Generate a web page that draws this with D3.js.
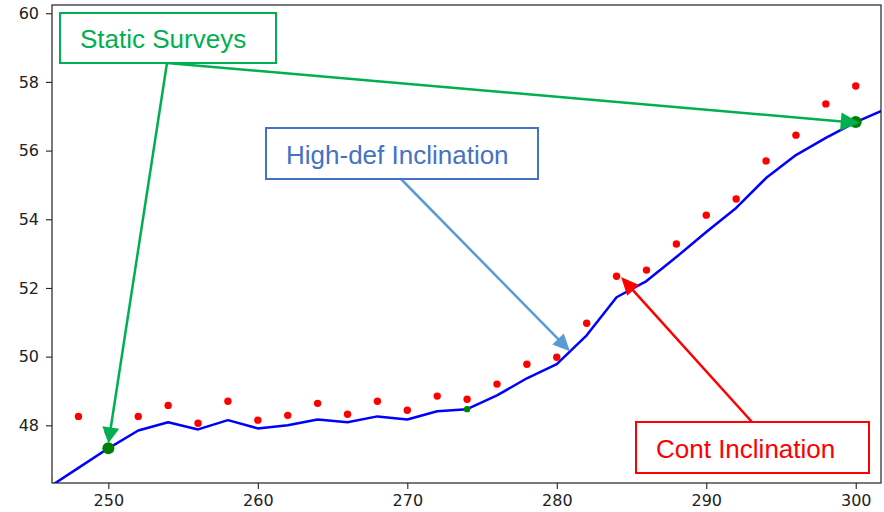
<!DOCTYPE html>
<html>
<head>
<meta charset="utf-8">
<script src="https://cdn.jsdelivr.net/npm/d3@7"></script>
<style>
  html, body { margin: 0; padding: 0; background: #fff; }
  svg { display: block; }
</style>
</head>
<body>
<svg id="chart" width="884" height="512"></svg>
<script>
// High-definition inclination (continuous line), every 2 ft of depth
const depthHD = [246, 248, 250, 252, 254, 256, 258, 260, 262, 264, 266, 268, 270, 272, 274,
                 276, 278, 280, 282, 284, 286, 288, 290, 292, 294, 296, 298, 300, 302];
const inclHD  = [46.19, 46.76, 47.33, 47.85, 48.09, 47.88, 48.15, 47.91, 48.00, 48.17, 48.09, 48.26, 48.17, 48.41, 48.47,
                 48.87, 49.37, 49.78, 50.62, 51.73, 52.20, 52.90, 53.63, 54.33, 55.20, 55.87, 56.37, 56.83, 57.21];

// Continuous inclination readings
const depthCont = [246, 248, 250, 252, 254, 256, 258, 260, 262, 264, 266, 268, 270, 272, 274,
                   276, 278, 280, 282, 284, 286, 288, 290, 292, 294, 296, 298, 300];
const inclCont  = [46.45, 48.26, 47.80, 48.26, 48.58, 48.06, 48.70, 48.15, 48.29, 48.64, 48.32, 48.70, 48.44, 48.85, 48.76,
                   49.20, 49.78, 49.98, 50.97, 52.34, 52.52, 53.28, 54.12, 54.59, 55.70, 56.45, 57.36, 57.88];

// Static survey stations
const depthStatic = [250, 300];
const inclStatic  = [47.33, 56.83];

// Tie-in point
const depthTie = [274];
const inclTie  = [48.47];

const xTicks = [250, 260, 270, 280, 290, 300];
const yTicks = [48, 50, 52, 54, 56, 58, 60];

const svg = d3.select("#chart");
const plot = { left: 52, top: 5, right: 881, bottom: 483 };

const x = d3.scaleLinear().domain([246.23, 301.69]).range([plot.left, plot.right]);
const y = d3.scaleLinear().domain([46.32, 60.24]).range([plot.bottom, plot.top]);

svg.append("defs").append("clipPath").attr("id", "plotClip")
  .append("rect")
  .attr("x", plot.left).attr("y", plot.top)
  .attr("width", plot.right - plot.left).attr("height", plot.bottom - plot.top);

const tickFont = "'DejaVu Sans', sans-serif";

// Axes
const gx = svg.append("g")
  .attr("transform", `translate(0,${plot.bottom})`)
  .call(d3.axisBottom(x).tickValues(xTicks).tickFormat(d3.format("d")).tickSize(6).tickPadding(6));
const gy = svg.append("g")
  .attr("transform", `translate(${plot.left},0)`)
  .call(d3.axisLeft(y).tickValues(yTicks).tickFormat(d3.format("d")).tickSize(6).tickPadding(7));
[gx, gy].forEach(g => {
  g.select(".domain").remove();
  g.selectAll(".tick line").attr("stroke", "#222").attr("stroke-width", 1.1);
  g.selectAll(".tick text").attr("fill", "#222")
    .style("font-family", tickFont).style("font-size", "16px");
});

const data = svg.append("g").attr("clip-path", "url(#plotClip)");

// High-def inclination line
data.append("path")
  .datum(depthHD.map((d, i) => [d, inclHD[i]]))
  .attr("fill", "none")
  .attr("stroke", "#0000ff")
  .attr("stroke-width", 2.5)
  .attr("stroke-linejoin", "round")
  .attr("d", d3.line().x(d => x(d[0])).y(d => y(d[1])));

// Continuous inclination dots
data.selectAll("circle.cont")
  .data(depthCont.map((d, i) => [d, inclCont[i]]))
  .join("circle")
  .attr("class", "cont")
  .attr("cx", d => x(d[0])).attr("cy", d => y(d[1]))
  .attr("r", 3.7)
  .attr("fill", "#ff0000");

// Static surveys
data.selectAll("circle.static")
  .data(depthStatic.map((d, i) => [d, inclStatic[i]]))
  .join("circle")
  .attr("class", "static")
  .attr("cx", d => x(d[0])).attr("cy", d => y(d[1]))
  .attr("r", 6)
  .attr("fill", "#008000");

// Tie-in point
data.selectAll("circle.tie")
  .data(depthTie.map((d, i) => [d, inclTie[i]]))
  .join("circle")
  .attr("class", "tie")
  .attr("cx", d => x(d[0])).attr("cy", d => y(d[1]))
  .attr("r", 3.2)
  .attr("fill", "#008000");

// Plot frame
svg.append("rect")
  .attr("x", plot.left).attr("y", plot.top)
  .attr("width", plot.right - plot.left).attr("height", plot.bottom - plot.top)
  .attr("fill", "none").attr("stroke", "#222").attr("stroke-width", 1.2);

// Callouts: boxed label with arrows pointing at the data
const labelFont = "'Liberation Sans', Arial, sans-serif";

function arrow(g, x0, y0, x1, y1, color, width, headLen, headHalf) {
  const dx = x1 - x0, dy = y1 - y0;
  const len = Math.hypot(dx, dy);
  const ux = dx / len, uy = dy / len;
  const bx = x1 - ux * headLen, by = y1 - uy * headLen;
  g.append("line")
    .attr("x1", x0).attr("y1", y0).attr("x2", bx + ux * 1).attr("y2", by + uy * 1)
    .attr("stroke", color).attr("stroke-width", width);
  g.append("path")
    .attr("d", `M${x1},${y1}L${bx - uy * headHalf},${by + ux * headHalf}L${bx + uy * headHalf},${by - ux * headHalf}Z`)
    .attr("fill", color);
}

function callout(cfg) {
  const g = svg.append("g");
  cfg.arrows.forEach(a => {
    arrow(g, cfg.anchor[0], cfg.anchor[1], x(a.depth) + a.dx, y(a.incl) + a.dy,
          cfg.arrowColor, 2.5, a.headLen, a.headHalf);
  });
  g.append("rect")
    .attr("x", cfg.box[0]).attr("y", cfg.box[1])
    .attr("width", cfg.box[2]).attr("height", cfg.box[3])
    .attr("fill", "#fff").attr("stroke", cfg.color).attr("stroke-width", 2);
  g.append("text")
    .attr("x", cfg.textPos[0]).attr("y", cfg.textPos[1])
    .attr("fill", cfg.color)
    .style("font-family", labelFont).style("font-size", "26px")
    .text(cfg.label);
}

callout({
  label: "Static Surveys", color: "#00b050", arrowColor: "#00b050",
  box: [60, 13, 216, 50], textPos: [80, 48], anchor: [167, 63],
  arrows: [
    { depth: 250, incl: 47.33, dx: 0, dy: -5, headLen: 16, headHalf: 8.5 },
    { depth: 300, incl: 56.83, dx: 4, dy: 1, headLen: 19, headHalf: 9 }
  ]
});

callout({
  label: "High-def Inclination", color: "#4472c4", arrowColor: "#5b9bd5",
  box: [266, 128, 272, 51], textPos: [286, 164], anchor: [401, 179],
  arrows: [
    { depth: 280.88, incl: 50.16, dx: 0, dy: 0, headLen: 17, headHalf: 8 }
  ]
});

callout({
  label: "Cont Inclination", color: "#ff0000", arrowColor: "#ff0000",
  box: [636, 422, 233, 51], textPos: [656, 458], anchor: [752, 422],
  arrows: [
    { depth: 284.3, incl: 52.32, dx: 0, dy: 0, headLen: 18, headHalf: 8 }
  ]
});
</script>
</body>
</html>
